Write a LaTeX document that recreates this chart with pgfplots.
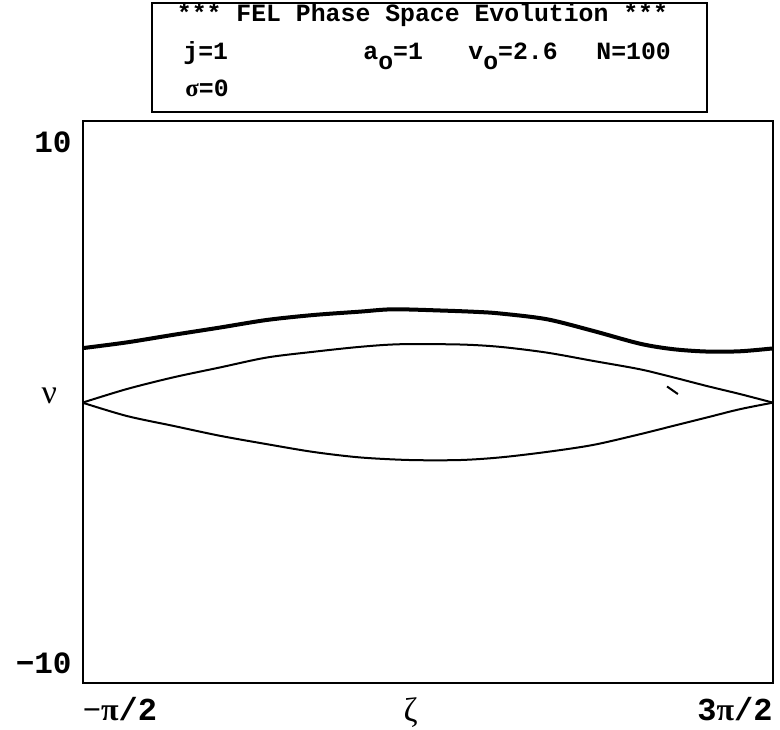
\documentclass[border=0pt]{standalone}
\usepackage{fontspec}
\setmainfont{Liberation Mono}
\newfontfamily\greek{Liberation Serif}
\usepackage{pgfplots}
\pgfplotsset{compat=1.18}

\begin{document}
\begin{tikzpicture}
% page = 780 x 729 px at 0.5pt per px; axis box sits at the origin
\useasboundingbox (-41.25pt,-23pt) rectangle (348.75pt,341.5pt);

\begin{axis}[
  scale only axis,
  width=345.25pt, height=281pt,
  xmin=-1.5708, xmax=4.7124,
  ymin=-10.75, ymax=10.8,
  axis line style={line width=1pt},
  xtick=\empty,
  ytick={-10,10},
  yticklabels={\bfseries −10,\bfseries 10},
  major tick length=0pt,
  yticklabel style={font=\fontsize{15.5}{16}\selectfont, inner sep=0pt, anchor=east, xshift=-5.25pt},
  clip=false,
]
% particles after one step
\addplot[black, line width=2pt, smooth] coordinates {
  (-1.571,2.09) (-1.169,2.31) (-0.745,2.60) (-0.320,2.88) (0.105,3.17)
  (0.529,3.36) (0.954,3.49) (1.257,3.58) (1.712,3.53) (2.016,3.48)
  (2.228,3.42) (2.653,3.20) (3.077,2.75) (3.502,2.26) (3.805,2.05)
  (4.109,1.96) (4.412,1.97) (4.712,2.08)
};
% separatrix, upper branch
\addplot[black, line width=1pt, smooth] coordinates {
  (-1.571,0) (-1.169,0.52) (-0.745,0.97) (-0.320,1.35) (0.105,1.73)
  (0.529,1.95) (0.954,2.14) (1.318,2.24) (1.864,2.23) (2.228,2.14)
  (2.653,1.92) (3.077,1.60) (3.502,1.28) (3.805,0.97) (4.109,0.64)
  (4.412,0.33) (4.712,0)
};
% separatrix, lower branch
\addplot[black, line width=1pt, smooth] coordinates {
  (-1.571,0) (-1.169,-0.51) (-0.745,-0.89) (-0.320,-1.27) (0.105,-1.59)
  (0.529,-1.89) (0.954,-2.10) (1.409,-2.20) (1.864,-2.20) (2.228,-2.10)
  (2.653,-1.89) (3.077,-1.62) (3.502,-1.21) (3.805,-0.89) (4.109,-0.57)
  (4.412,-0.25) (4.712,0)
};
% stray particle trace
\addplot[black, line width=1pt] coordinates {(3.748,0.62) (3.847,0.33)};

\node[anchor=east, inner sep=0pt, font=\fontsize{17}{18}\selectfont\greek]
  at (axis cs:-1.5708,0.25) [xshift=-12.5pt] {ν};
\node[anchor=north west, inner sep=0pt, font=\fontsize{16}{17}\selectfont\bfseries]
  at (rel axis cs:0,0) [yshift=-7pt] {{\greek −π}/2};
\node[anchor=north, inner sep=0pt, font=\fontsize{17}{18}\selectfont\greek]
  at (rel axis cs:0.5,0) [xshift=-8.5pt, yshift=-7pt] {ζ};
\node[anchor=north east, inner sep=0pt, font=\fontsize{16}{17}\selectfont\bfseries]
  at (rel axis cs:1,0) [yshift=-7pt] {3{\greek π}/2};
\end{axis}

% title box
\draw[line width=0.8pt] (34.75pt,285.5pt) rectangle (312.25pt,340pt);
\begin{scope}[every node/.style={inner sep=0pt, anchor=base west, font=\fontsize{12.4}{13}\selectfont\bfseries}]
\node[anchor=base] at (170pt,330.5pt) {*** FEL Phase Space Evolution ***};
\node at (50.25pt,311.5pt) {j=1};
\node at (140.25pt,311.5pt) {a\raisebox{-0.4em}{o}=1};
\node at (192.75pt,311.5pt) {v\raisebox{-0.4em}{o}=2.6};
\node at (256.75pt,311.5pt) {N=100};
\node at (51.25pt,293pt) {{\greek σ}=0};
\end{scope}
\end{tikzpicture}
\end{document}
